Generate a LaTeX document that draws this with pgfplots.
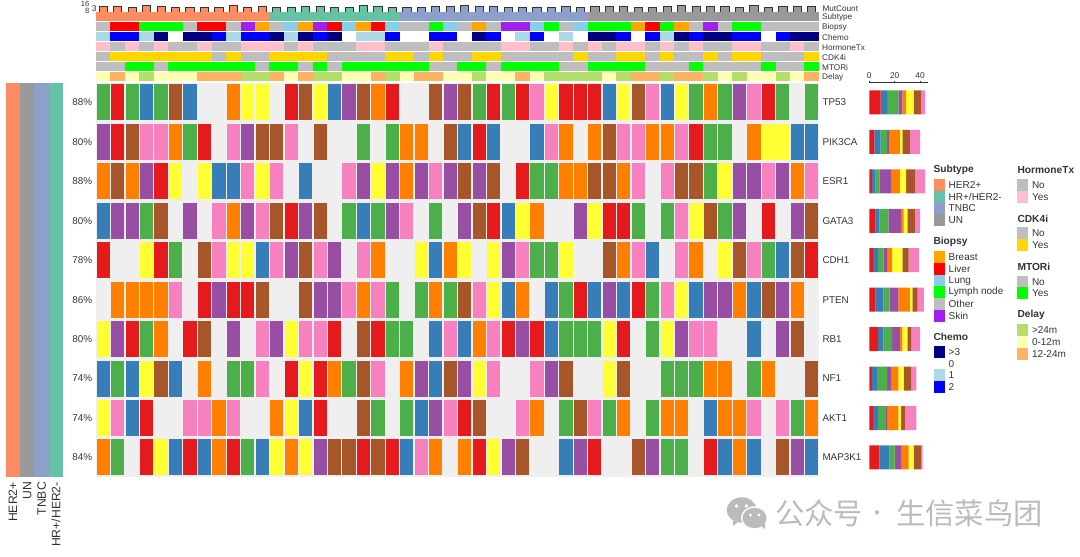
\documentclass[border=0pt]{standalone}
\usepackage{fontspec}
\setmainfont{Liberation Sans}
\newfontfamily\cjk{Noto Sans CJK SC}
\usepackage{pgfplots}
\pgfplotsset{compat=1.18}

% 1 reference pixel = 1pt here, the page is scaled afterwards
\newcommand\fs[1]{\fontsize{#1}{#1}\selectfont}

\definecolor{setR}{HTML}{E41A1C}
\definecolor{setB}{HTML}{377EB8}
\definecolor{setG}{HTML}{4DAF4A}
\definecolor{setP}{HTML}{984EA3}
\definecolor{setO}{HTML}{FF7F00}
\definecolor{setY}{HTML}{FFFF33}
\definecolor{setW}{HTML}{A65628}
\definecolor{setK}{HTML}{F781BF}
\definecolor{bg}{HTML}{EFEFEF}
\definecolor{colher}{HTML}{FC8D62}
\definecolor{colhr}{HTML}{66C2A5}
\definecolor{coltn}{HTML}{8DA0CB}
\definecolor{colun}{HTML}{999999}
\definecolor{colbr}{HTML}{FFA500}
\definecolor{colli}{HTML}{FF0000}
\definecolor{collu}{HTML}{87CEEB}
\definecolor{colln}{HTML}{00FF00}
\definecolor{colot}{HTML}{BEBEBE}
\definecolor{colsk}{HTML}{A020F0}
\definecolor{colc3}{HTML}{000080}
\definecolor{colc1}{HTML}{ADD8E6}
\definecolor{colc2}{HTML}{0000FF}
\definecolor{colhy}{HTML}{FFC0CB}
\definecolor{colcy}{HTML}{FFD700}
\definecolor{cold24}{HTML}{B3DE69}
\definecolor{cold0}{HTML}{FFFFB3}
\definecolor{cold12}{HTML}{FDB462}
\definecolor{txt}{HTML}{333333}

\pgfdeclareplotmark{genebox}{\pgfpathrectangle{\pgfpoint{-6.6pt}{-18pt}}{\pgfpoint{13.2pt}{36pt}}\pgfusepathqfill}
\pgfdeclareplotmark{trackbox}{\pgfpathrectangle{\pgfpoint{-7.3pt}{-4.45pt}}{\pgfpoint{14.6pt}{8.9pt}}\pgfusepathqfill}

\pgfplotsset{
  genecell/.style={scatter, only marks, mark=genebox, scatter src=explicit symbolic,
    scatter/classes={
      R={mark=genebox,fill=setR,draw=none}, B={mark=genebox,fill=setB,draw=none},
      G={mark=genebox,fill=setG,draw=none}, P={mark=genebox,fill=setP,draw=none},
      O={mark=genebox,fill=setO,draw=none}, Y={mark=genebox,fill=setY,draw=none},
      W={mark=genebox,fill=setW,draw=none}, K={mark=genebox,fill=setK,draw=none}}},
  tracktile/.style={scatter, only marks, mark=trackbox, scatter src=explicit symbolic,
    scatter/classes={
      her={mark=trackbox,fill=colher,draw=none}, hr={mark=trackbox,fill=colhr,draw=none},
      tn={mark=trackbox,fill=coltn,draw=none}, un={mark=trackbox,fill=colun,draw=none},
      br={mark=trackbox,fill=colbr,draw=none}, li={mark=trackbox,fill=colli,draw=none},
      lu={mark=trackbox,fill=collu,draw=none}, ln={mark=trackbox,fill=colln,draw=none},
      ot={mark=trackbox,fill=colot,draw=none}, sk={mark=trackbox,fill=colsk,draw=none},
      c3={mark=trackbox,fill=colc3,draw=none}, c0={mark=trackbox,fill=white,draw=none},
      c1={mark=trackbox,fill=colc1,draw=none}, c2={mark=trackbox,fill=colc2,draw=none},
      no={mark=trackbox,fill=colot,draw=none}, hy={mark=trackbox,fill=colhy,draw=none},
      cy={mark=trackbox,fill=colcy,draw=none}, my={mark=trackbox,fill=colln,draw=none},
      d24={mark=trackbox,fill=cold24,draw=none}, d0={mark=trackbox,fill=cold0,draw=none},
      d12={mark=trackbox,fill=cold12,draw=none}}},
  plain panel/.style={scale only axis, anchor=north west, clip=false,
    axis line style={draw=none}, tick style={draw=none},
    /pgf/number format/assume math mode=true},
  mutbar/.style={ybar, bar width=8.2pt, bar shift=0pt, draw=txt, line width=.9pt},
  stackpart/.style={draw=none, fill=#1},
}

\newcommand\legtitle[3]{\node[anchor=west,inner sep=0pt,text=txt,font=\fs{10.2}\bfseries] at (#1pt,-#2pt) {#3};}
\newcommand\legitem[4]{%
  \fill[#3] (#1pt,-#2pt-5.85pt) rectangle (#1pt+11pt,-#2pt+5.85pt);
  \node[anchor=west,inner sep=0pt,text=txt,font=\fs{10}] at (#1pt+14.5pt,-#2pt) {#4};}

\begin{document}
\begin{tikzpicture}
\useasboundingbox (0pt,0pt) rectangle (1080pt,-557pt);

% MutCount bars on top
\begin{axis}[plain panel, at={(96pt,-5.3pt)}, width=723pt, height=6.7pt,
    xmin=-0.5, xmax=49.5, ymin=0, ymax=16, xtick=\empty, ytick=\empty]
  \addplot[mutbar, fill=colher] coordinates {(0,14) (1,14) (2,11) (3,16) (4,14) (5,10) (6,10) (7,11) (8,10) (9,16) (10,12) (11,14)};
  \addplot[mutbar, fill=colhr] coordinates {(12,11) (13,12) (14,14) (15,14) (16,10) (17,10) (18,16) (19,14) (20,11)};
  \addplot[mutbar, fill=coltn] coordinates {(21,10) (22,10) (23,14) (24,13) (25,16) (26,14) (27,14) (28,10) (29,12) (30,12) (31,11) (32,14) (33,11)};
  \addplot[mutbar, fill=colun] coordinates {(34,14) (35,14) (36,14) (37,10) (38,11) (39,14) (40,16) (41,13) (42,14) (43,14) (44,11) (45,14.5) (46,11) (47,13) (48,13) (49,13)};
\end{axis}
\node[anchor=east,inner sep=0pt,text=txt,font=\fs{7.6}] at (89.5pt,-4.2pt) {16};
\node[anchor=east,inner sep=0pt,text=txt,font=\fs{7.6}] at (89.5pt,-11pt) {8};
\node[anchor=center,inner sep=0pt,text=txt,font=\fs{8.4}] at (94.2pt,-8.5pt) {3};

% annotation tracks
\begin{axis}[plain panel, at={(96pt,-11.85pt)}, width=723pt, height=69.3pt,
    xmin=-0.5, xmax=49.5, ymin=-0.5, ymax=6.5, y dir=reverse, xtick=\empty,
    ytick={0,1,2,3,4,5,6}, yticklabels={Subtype,Biopsy,Chemo,HormoneTx,CDK4i,MTORi,Delay},
    yticklabel pos=right, y tick label style={font=\fs{8.2}, text=txt, inner xsep=3pt, inner ysep=0pt, yshift=-0.9pt}]
  \addplot[tracktile] coordinates {(0,0)[her] (1,0)[her] (2,0)[her] (3,0)[her] (4,0)[her] (5,0)[her] (6,0)[her] (7,0)[her] (8,0)[her] (9,0)[her] (10,0)[her] (11,0)[her] (12,0)[hr] (13,0)[hr] (14,0)[hr] (15,0)[hr] (16,0)[hr] (17,0)[hr] (18,0)[hr] (19,0)[hr] (20,0)[hr] (21,0)[tn] (22,0)[tn] (23,0)[tn] (24,0)[tn] (25,0)[tn] (26,0)[tn] (27,0)[tn] (28,0)[tn] (29,0)[tn] (30,0)[tn] (31,0)[tn] (32,0)[tn] (33,0)[tn] (34,0)[un] (35,0)[un] (36,0)[un] (37,0)[un] (38,0)[un] (39,0)[un] (40,0)[un] (41,0)[un] (42,0)[un] (43,0)[un] (44,0)[un] (45,0)[un] (46,0)[un] (47,0)[un] (48,0)[un] (49,0)[un]};
  \addplot[tracktile] coordinates {(0,1)[ot] (1,1)[li] (2,1)[li] (3,1)[ln] (4,1)[ln] (5,1)[ln] (6,1)[ot] (7,1)[li] (8,1)[li] (9,1)[ot] (10,1)[sk] (11,1)[br] (12,1)[ot] (13,1)[lu] (14,1)[br] (15,1)[sk] (16,1)[li] (17,1)[lu] (18,1)[br] (19,1)[li] (20,1)[lu] (21,1)[ot] (22,1)[ot] (23,1)[ln] (24,1)[lu] (25,1)[ot] (26,1)[br] (27,1)[ot] (28,1)[sk] (29,1)[sk] (30,1)[lu] (31,1)[ln] (32,1)[ot] (33,1)[lu] (34,1)[ln] (35,1)[ln] (36,1)[ln] (37,1)[br] (38,1)[li] (39,1)[ln] (40,1)[br] (41,1)[ot] (42,1)[sk] (43,1)[ot] (44,1)[ln] (45,1)[ln] (46,1)[ot] (47,1)[ot] (48,1)[ot] (49,1)[ot]};
  \addplot[tracktile] coordinates {(0,2)[c1] (1,2)[c2] (2,2)[c2] (3,2)[c1] (4,2)[c3] (5,2)[c0] (6,2)[c3] (7,2)[c3] (8,2)[c2] (9,2)[c1] (10,2)[c2] (11,2)[c2] (12,2)[c3] (13,2)[c1] (14,2)[c3] (15,2)[c2] (16,2)[c3] (17,2)[c0] (18,2)[c1] (19,2)[c1] (20,2)[c2] (21,2)[c0] (22,2)[c0] (23,2)[c2] (24,2)[c2] (25,2)[c0] (26,2)[c3] (27,2)[c2] (28,2)[c0] (29,2)[c1] (30,2)[c2] (31,2)[c0] (32,2)[c1] (33,2)[c0] (34,2)[c3] (35,2)[c3] (36,2)[c2] (37,2)[c0] (38,2)[c2] (39,2)[c1] (40,2)[c3] (41,2)[c2] (42,2)[c3] (43,2)[c3] (44,2)[c2] (45,2)[c2] (46,2)[c0] (47,2)[c2] (48,2)[c3] (49,2)[c3]};
  \addplot[tracktile] coordinates {(0,3)[hy] (1,3)[no] (2,3)[hy] (3,3)[no] (4,3)[hy] (5,3)[no] (6,3)[no] (7,3)[hy] (8,3)[no] (9,3)[no] (10,3)[hy] (11,3)[hy] (12,3)[hy] (13,3)[no] (14,3)[hy] (15,3)[no] (16,3)[no] (17,3)[no] (18,3)[hy] (19,3)[hy] (20,3)[no] (21,3)[no] (22,3)[no] (23,3)[hy] (24,3)[no] (25,3)[no] (26,3)[no] (27,3)[no] (28,3)[hy] (29,3)[hy] (30,3)[no] (31,3)[no] (32,3)[hy] (33,3)[no] (34,3)[hy] (35,3)[no] (36,3)[hy] (37,3)[hy] (38,3)[no] (39,3)[hy] (40,3)[no] (41,3)[hy] (42,3)[no] (43,3)[no] (44,3)[hy] (45,3)[hy] (46,3)[no] (47,3)[no] (48,3)[hy] (49,3)[no]};
  \addplot[tracktile] coordinates {(0,4)[no] (1,4)[cy] (2,4)[cy] (3,4)[cy] (4,4)[cy] (5,4)[cy] (6,4)[cy] (7,4)[cy] (8,4)[no] (9,4)[cy] (10,4)[no] (11,4)[no] (12,4)[cy] (13,4)[cy] (14,4)[cy] (15,4)[cy] (16,4)[no] (17,4)[no] (18,4)[no] (19,4)[no] (20,4)[cy] (21,4)[cy] (22,4)[no] (23,4)[cy] (24,4)[no] (25,4)[no] (26,4)[cy] (27,4)[cy] (28,4)[no] (29,4)[no] (30,4)[no] (31,4)[no] (32,4)[no] (33,4)[cy] (34,4)[no] (35,4)[no] (36,4)[cy] (37,4)[cy] (38,4)[no] (39,4)[cy] (40,4)[no] (41,4)[no] (42,4)[cy] (43,4)[no] (44,4)[cy] (45,4)[cy] (46,4)[no] (47,4)[no] (48,4)[no] (49,4)[cy]};
  \addplot[tracktile] coordinates {(0,5)[no] (1,5)[no] (2,5)[my] (3,5)[my] (4,5)[no] (5,5)[my] (6,5)[my] (7,5)[my] (8,5)[my] (9,5)[my] (10,5)[my] (11,5)[no] (12,5)[my] (13,5)[my] (14,5)[no] (15,5)[my] (16,5)[no] (17,5)[my] (18,5)[my] (19,5)[my] (20,5)[my] (21,5)[my] (22,5)[my] (23,5)[no] (24,5)[no] (25,5)[my] (26,5)[my] (27,5)[no] (28,5)[my] (29,5)[my] (30,5)[my] (31,5)[my] (32,5)[no] (33,5)[no] (34,5)[my] (35,5)[my] (36,5)[my] (37,5)[my] (38,5)[no] (39,5)[no] (40,5)[no] (41,5)[my] (42,5)[no] (43,5)[no] (44,5)[no] (45,5)[no] (46,5)[my] (47,5)[no] (48,5)[no] (49,5)[my]};
  \addplot[tracktile] coordinates {(0,6)[d0] (1,6)[d12] (2,6)[d0] (3,6)[d24] (4,6)[d0] (5,6)[d0] (6,6)[d0] (7,6)[d12] (8,6)[d12] (9,6)[d12] (10,6)[d24] (11,6)[d24] (12,6)[d12] (13,6)[d0] (14,6)[d12] (15,6)[d24] (16,6)[d24] (17,6)[d0] (18,6)[d0] (19,6)[d12] (20,6)[d24] (21,6)[d0] (22,6)[d12] (23,6)[d12] (24,6)[d0] (25,6)[d0] (26,6)[d24] (27,6)[d0] (28,6)[d0] (29,6)[d12] (30,6)[d0] (31,6)[d24] (32,6)[d24] (33,6)[d24] (34,6)[d24] (35,6)[d0] (36,6)[d24] (37,6)[d12] (38,6)[d12] (39,6)[d24] (40,6)[d12] (41,6)[d12] (42,6)[d24] (43,6)[d0] (44,6)[d24] (45,6)[d0] (46,6)[d0] (47,6)[d24] (48,6)[d0] (49,6)[d12]};
\end{axis}
\node[anchor=west,inner sep=0pt,text=txt,font=\fs{8.2}] at (822.3pt,-9pt) {MutCount};

% percentages left of the heatmap
\begin{axis}[plain panel, at={(96pt,-82.7pt)}, width=723pt, height=394.5pt,
    xmin=-0.5, xmax=49.5, ymin=-0.5, ymax=9.5, y dir=reverse, xtick=\empty,
    ytick={0,1,2,3,4,5,6,7,8,9},
    yticklabels={88\%,80\%,88\%,80\%,78\%,86\%,80\%,74\%,74\%,84\%},
    yticklabel pos=left, y tick label style={font=\fs{9.85}, text=txt, inner xsep=3.7pt, inner ysep=0pt}]
\end{axis}

% mutation heatmap, one line per gene
\begin{axis}[plain panel, at={(96pt,-82.7pt)}, width=723pt, height=394.5pt,
    axis background/.style={fill=bg},
    xmin=-0.5, xmax=49.5, ymin=-0.5, ymax=9.5, y dir=reverse, xtick=\empty,
    ytick={0,1,2,3,4,5,6,7,8,9},
    yticklabels={TP53,PIK3CA,ESR1,GATA3,CDH1,PTEN,RB1,NF1,AKT1,MAP3K1},
    yticklabel pos=right, y tick label style={font=\fs{9.85}, text=txt, inner xsep=3.3pt, inner ysep=0pt}]
  \addplot[genecell] coordinates {(0,0)[G] (1,0)[R] (2,0)[G] (3,0)[B] (4,0)[G] (5,0)[W] (6,0)[B] (9,0)[O] (10,0)[Y] (11,0)[Y] (13,0)[R] (14,0)[W] (15,0)[Y] (16,0)[B] (17,0)[P] (18,0)[W] (19,0)[O] (20,0)[R] (23,0)[W] (24,0)[P] (25,0)[W] (26,0)[G] (27,0)[R] (28,0)[G] (29,0)[R] (30,0)[K] (31,0)[Y] (32,0)[R] (33,0)[R] (34,0)[R] (35,0)[B] (36,0)[Y] (37,0)[W] (38,0)[K] (39,0)[B] (40,0)[Y] (41,0)[G] (42,0)[O] (43,0)[G] (44,0)[P] (45,0)[K] (46,0)[R] (47,0)[G] (49,0)[G]};
  \addplot[genecell] coordinates {(0,1)[P] (1,1)[R] (2,1)[W] (3,1)[K] (4,1)[K] (5,1)[O] (6,1)[G] (7,1)[R] (9,1)[K] (10,1)[P] (11,1)[W] (12,1)[W] (13,1)[K] (15,1)[W] (18,1)[G] (20,1)[G] (21,1)[O] (22,1)[O] (24,1)[W] (25,1)[B] (26,1)[R] (27,1)[B] (30,1)[B] (31,1)[K] (32,1)[O] (34,1)[O] (35,1)[W] (36,1)[K] (37,1)[K] (38,1)[O] (39,1)[O] (40,1)[K] (41,1)[R] (42,1)[G] (43,1)[G] (45,1)[O] (46,1)[Y] (47,1)[Y] (48,1)[B] (49,1)[B]};
  \addplot[genecell] coordinates {(0,2)[O] (1,2)[W] (2,2)[O] (3,2)[P] (4,2)[R] (5,2)[Y] (7,2)[Y] (8,2)[B] (9,2)[B] (10,2)[K] (11,2)[Y] (12,2)[K] (14,2)[B] (17,2)[K] (18,2)[P] (19,2)[Y] (20,2)[P] (21,2)[O] (22,2)[P] (23,2)[K] (24,2)[P] (25,2)[W] (26,2)[P] (27,2)[W] (29,2)[R] (30,2)[G] (31,2)[G] (32,2)[O] (33,2)[O] (34,2)[W] (35,2)[W] (36,2)[O] (37,2)[K] (39,2)[K] (40,2)[W] (41,2)[W] (42,2)[G] (43,2)[Y] (44,2)[P] (45,2)[P] (46,2)[K] (47,2)[P] (48,2)[O] (49,2)[K]};
  \addplot[genecell] coordinates {(0,3)[B] (1,3)[P] (2,3)[P] (3,3)[G] (4,3)[W] (6,3)[P] (8,3)[K] (9,3)[O] (10,3)[P] (11,3)[K] (12,3)[W] (13,3)[R] (14,3)[P] (15,3)[W] (17,3)[G] (18,3)[B] (19,3)[G] (20,3)[P] (21,3)[K] (23,3)[G] (25,3)[P] (26,3)[W] (27,3)[R] (28,3)[B] (29,3)[Y] (30,3)[O] (33,3)[P] (34,3)[Y] (35,3)[R] (36,3)[R] (37,3)[G] (39,3)[G] (40,3)[K] (41,3)[Y] (42,3)[W] (43,3)[G] (44,3)[P] (46,3)[R] (48,3)[P] (49,3)[W]};
  \addplot[genecell] coordinates {(0,4)[R] (3,4)[Y] (4,4)[R] (5,4)[G] (7,4)[W] (8,4)[K] (9,4)[Y] (10,4)[Y] (11,4)[B] (12,4)[K] (13,4)[P] (14,4)[W] (15,4)[K] (16,4)[P] (18,4)[K] (19,4)[O] (22,4)[Y] (23,4)[B] (24,4)[O] (25,4)[Y] (27,4)[Y] (28,4)[P] (29,4)[K] (30,4)[G] (31,4)[G] (32,4)[Y] (35,4)[W] (36,4)[O] (37,4)[K] (38,4)[B] (40,4)[K] (41,4)[O] (43,4)[Y] (44,4)[W] (45,4)[K] (46,4)[G] (47,4)[B] (48,4)[W] (49,4)[R]};
  \addplot[genecell] coordinates {(1,5)[O] (2,5)[O] (3,5)[O] (4,5)[O] (5,5)[K] (7,5)[R] (8,5)[P] (9,5)[R] (10,5)[R] (11,5)[W] (14,5)[W] (15,5)[P] (16,5)[P] (17,5)[K] (18,5)[O] (19,5)[K] (20,5)[G] (22,5)[G] (23,5)[O] (24,5)[G] (25,5)[W] (26,5)[K] (27,5)[Y] (28,5)[B] (29,5)[O] (31,5)[B] (32,5)[G] (33,5)[R] (34,5)[B] (35,5)[P] (36,5)[B] (37,5)[R] (38,5)[G] (39,5)[K] (40,5)[Y] (41,5)[B] (42,5)[P] (43,5)[P] (44,5)[O] (45,5)[B] (46,5)[W] (47,5)[P] (48,5)[O]};
  \addplot[genecell] coordinates {(0,6)[Y] (1,6)[P] (2,6)[R] (3,6)[G] (4,6)[O] (6,6)[R] (7,6)[W] (9,6)[P] (11,6)[K] (12,6)[P] (13,6)[Y] (14,6)[K] (15,6)[K] (16,6)[R] (18,6)[W] (19,6)[R] (20,6)[G] (21,6)[G] (23,6)[B] (24,6)[K] (25,6)[B] (26,6)[O] (27,6)[K] (28,6)[R] (29,6)[P] (30,6)[R] (31,6)[B] (32,6)[G] (33,6)[G] (34,6)[G] (35,6)[Y] (36,6)[R] (38,6)[G] (39,6)[Y] (40,6)[P] (41,6)[K] (42,6)[K] (45,6)[B] (47,6)[P] (48,6)[W]};
  \addplot[genecell] coordinates {(0,7)[B] (1,7)[G] (2,7)[B] (3,7)[Y] (4,7)[W] (5,7)[B] (7,7)[O] (9,7)[G] (10,7)[G] (11,7)[K] (13,7)[R] (14,7)[Y] (15,7)[R] (16,7)[O] (17,7)[G] (18,7)[W] (19,7)[K] (21,7)[O] (22,7)[P] (23,7)[B] (24,7)[W] (25,7)[P] (26,7)[Y] (27,7)[K] (30,7)[K] (31,7)[P] (32,7)[W] (35,7)[Y] (36,7)[W] (39,7)[G] (40,7)[G] (41,7)[G] (42,7)[O] (43,7)[O] (45,7)[G] (46,7)[O] (49,7)[W]};
  \addplot[genecell] coordinates {(0,8)[Y] (1,8)[K] (2,8)[B] (3,8)[R] (6,8)[K] (7,8)[K] (8,8)[O] (9,8)[K] (12,8)[O] (13,8)[Y] (14,8)[B] (15,8)[R] (18,8)[W] (19,8)[G] (21,8)[G] (22,8)[B] (23,8)[P] (24,8)[K] (25,8)[R] (26,8)[W] (29,8)[K] (30,8)[O] (32,8)[G] (33,8)[W] (34,8)[K] (35,8)[G] (36,8)[O] (38,8)[G] (39,8)[O] (40,8)[O] (42,8)[B] (43,8)[O] (44,8)[O] (45,8)[K] (47,8)[K] (48,8)[G] (49,8)[O]};
  \addplot[genecell] coordinates {(0,9)[O] (1,9)[G] (3,9)[R] (4,9)[Y] (5,9)[B] (6,9)[R] (7,9)[B] (8,9)[O] (9,9)[R] (10,9)[G] (11,9)[B] (12,9)[Y] (13,9)[O] (14,9)[Y] (15,9)[P] (16,9)[W] (17,9)[W] (18,9)[R] (19,9)[W] (20,9)[R] (21,9)[B] (22,9)[K] (23,9)[O] (25,9)[O] (26,9)[R] (27,9)[Y] (28,9)[P] (29,9)[W] (32,9)[B] (33,9)[P] (34,9)[R] (37,9)[W] (38,9)[P] (39,9)[G] (40,9)[G] (42,9)[R] (43,9)[B] (44,9)[O] (45,9)[B] (47,9)[W] (48,9)[P] (49,9)[B]};
\end{axis}

% stacked counts per gene
\begin{axis}[scale only axis, anchor=north west, at={(869.3pt,-82.7pt)}, width=59pt, height=394.5pt,
    xbar stacked, bar width=24pt, clip=false,
    xmin=0, xmax=46.5, ymin=-0.5, ymax=9.5, y dir=reverse,
    axis y line=none, axis x line*=top, xtick={0,20,40}, major tick length=2.2pt,
    tick align=outside, axis line style={draw=txt, line width=.6pt, -}, tick style={draw=txt, line width=.6pt},
    x tick label style={font=\fs{8.4}, text=txt, inner ysep=2pt},
    /pgf/number format/assume math mode=true]
  \addplot[stackpart=setR] coordinates {(9,0) (4,1) (2,2) (5,3) (3,4) (5,5) (7,6) (2,7) (3,8) (8,9)};
  \addplot[stackpart=setB] coordinates {(5,0) (5,1) (3,2) (3,3) (4,4) (6,5) (4,6) (4,7) (4,8) (8,9)};
  \addplot[stackpart=setG] coordinates {(9,0) (5,1) (3,2) (7,3) (4,4) (5,5) (7,6) (8,7) (6,8) (4,9)};
  \addplot[stackpart=setP] coordinates {(3,0) (2,1) (9,2) (10,3) (3,4) (7,5) (6,6) (3,7) (1,8) (5,9)};
  \addplot[stackpart=setO] coordinates {(3,0) (8,1) (7,2) (2,3) (4,4) (9,5) (2,6) (6,7) (9,8) (6,9)};
  \addplot[stackpart=setY] coordinates {(6,0) (2,1) (5,2) (3,3) (8,4) (2,5) (4,6) (4,7) (2,8) (4,9)};
  \addplot[stackpart=setW] coordinates {(6,0) (6,1) (7,2) (6,3) (5,4) (4,5) (3,6) (6,7) (3,8) (6,9)};
  \addplot[stackpart=setK] coordinates {(3,0) (8,1) (8,2) (4,3) (8,4) (5,5) (7,6) (4,7) (9,8) (1,9)};
\end{axis}

% subtype strips on the far left
\begin{axis}[plain panel, at={(5.7pt,-82.7pt)}, width=57.6pt, height=394.5pt,
    ybar, bar width=14.4pt, bar shift=0pt, xmin=-0.5, xmax=3.5, ymin=0, ymax=1, ytick=\empty,
    xtick={0,1,2,3}, xticklabels={HER2+,UN,TNBC,HR+/HER2-},
    x tick label style={rotate=90, anchor=east, font=\fs{12.2}, text=txt, inner xsep=0.5pt, inner ysep=0pt}]
  \addplot[draw=none, fill=colher] coordinates {(0,1)};
  \addplot[draw=none, fill=colun] coordinates {(1,1)};
  \addplot[draw=none, fill=coltn] coordinates {(2,1)};
  \addplot[draw=none, fill=colhr] coordinates {(3,1)};
\end{axis}

% legends
\legtitle{933.3}{170}{Subtype}
\legitem{934}{185}{colher}{HER2+}
\legitem{934}{196.7}{colhr}{HR+/HER2-}
\legitem{934}{208.3}{coltn}{TNBC}
\legitem{934}{220}{colun}{UN}
\legtitle{933.3}{242.3}{Biopsy}
\legitem{934}{257.3}{colbr}{Breast}
\legitem{934}{269}{colli}{Liver}
\legitem{934}{280.7}{collu}{Lung}
\legitem{934}{292.3}{colln}{Lymph node}
\legitem{934}{304}{colot}{Other}
\legitem{934}{315.7}{colsk}{Skin}
\legtitle{933.3}{337.3}{Chemo}
\legitem{934}{352}{colc3}{>3}
\legitem{934}{363.7}{white}{0}
\legitem{934}{375.3}{colc1}{1}
\legitem{934}{387}{colc2}{2}
\legtitle{1017.3}{170}{HormoneTx}
\legitem{1017.3}{185}{colot}{No}
\legitem{1017.3}{196.7}{colhy}{Yes}
\legtitle{1017.3}{218.7}{CDK4i}
\legitem{1017.3}{233.3}{colot}{No}
\legitem{1017.3}{245}{colcy}{Yes}
\legtitle{1017.3}{266.7}{MTORi}
\legitem{1017.3}{281.7}{colot}{No}
\legitem{1017.3}{293.3}{colln}{Yes}
\legtitle{1017.3}{315.3}{Delay}
\legitem{1017.3}{330}{cold24}{>24m}
\legitem{1017.3}{342}{cold0}{0-12m}
\legitem{1017.3}{353.7}{cold12}{12-24m}

% watermark
\definecolor{wm}{HTML}{BBBBBB}
\fill[wm] (741.7pt,-510pt) ellipse (15pt and 12.7pt);
\fill[wm] (733pt,-519pt) -- (738pt,-522pt) -- (733pt,-526pt) -- cycle;
\fill[white] (754.5pt,-518pt) ellipse (13.5pt and 11.7pt);
\fill[wm] (754.5pt,-518pt) ellipse (12pt and 10.2pt);
\fill[wm] (760pt,-525pt) -- (765pt,-529pt) -- (765pt,-522pt) -- cycle;
\fill[white] (736.5pt,-506pt) circle (1.9pt) (746.5pt,-506pt) circle (1.9pt);
\fill[white] (750.5pt,-515pt) circle (1.7pt) (759pt,-515pt) circle (1.7pt);
\node[anchor=west,inner sep=0pt,text=wm,font=\cjk\fs{29.3}] at (775pt,-513pt) {公众号};
\node[anchor=base,inner sep=0pt,text=wm,font=\cjk\fs{20}] at (877pt,-520pt) {·};
\node[anchor=west,inner sep=0pt,text=wm,font=\cjk\fs{29.3}] at (896pt,-513pt) {生信菜鸟团};
\end{tikzpicture}
\end{document}
